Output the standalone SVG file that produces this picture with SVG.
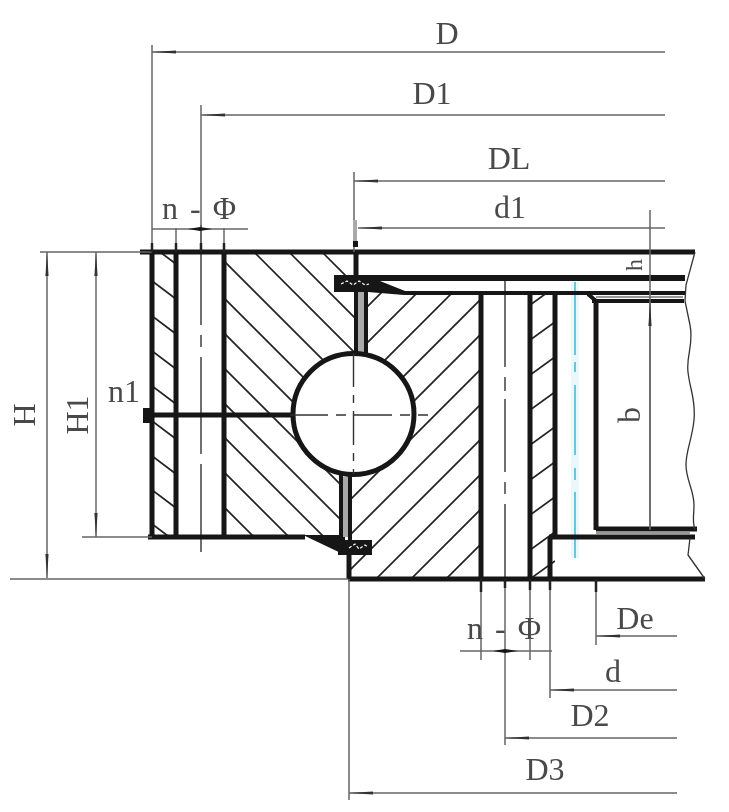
<svg xmlns="http://www.w3.org/2000/svg" width="729" height="812" viewBox="0 0 729 812">
<style>
.t{font-family:"Liberation Serif","DejaVu Serif",serif;font-size:32px;fill:#4a4a4a;text-anchor:middle}
.s{text-anchor:start;letter-spacing:12px}
.dim{stroke:#666;stroke-width:1.5;fill:none}
.thick{stroke:#151515;stroke-width:5;fill:none}
.mid{stroke:#151515;stroke-width:4;fill:none}
.h{stroke:#222;stroke-width:1.7;fill:none}
.ctr{stroke:#333;stroke-width:1.4;fill:none}
.dk{fill:#151515;stroke:none}
.tick{stroke:#222;stroke-width:2.5;fill:none}
</style>
<defs>
<filter id="soft" x="0" y="0" width="100%" height="100%"><feGaussianBlur stdDeviation="0.45"/></filter>
<marker id="a" markerWidth="26" markerHeight="6" refX="24" refY="3" orient="auto-start-reverse" markerUnits="userSpaceOnUse"><path d="M24 3L0 1.400V4.600Z" fill="#333"/></marker>
<clipPath id="c1"><path d="M224 252H356V414H341V538H224Z"/></clipPath>
<clipPath id="c2"><path d="M356 293H481V579H350V414H356Z"/></clipPath>
<clipPath id="c3"><rect x="152" y="252" width="24" height="285"/></clipPath>
<clipPath id="c4"><rect x="530" y="295" width="25" height="284"/></clipPath>
</defs>
<rect width="729" height="812" fill="#fff"/>
<g filter="url(#soft)">
<g id="hatching">
<g clip-path="url(#c1)" class="h">
<path d="M322 252L658 588M289 252L625 588M254 252L590 588M215 252L551 588M178 252L514 588M143 252L479 588M108 252L444 588M73 252L409 588M39 252L375 588M4 252L340 588M-31 252L305 588"/>
</g>
<g clip-path="url(#c2)" class="h">
<path d="M674 0L340 334M710 0L340 370M745 0L340 405M780 0L340 440M815 0L300 515M850 0L300 550M885 0L300 585M920 0L300 620M955 0L300 655M990 0L340 650M1025 0L420 605"/>
</g>
<g clip-path="url(#c3)" class="h">
<path d="M152 246L176 264M152 281L176 299M152 316L176 334M152 351L176 369M152 386L176 404M152 421L176 439M152 456L176 474M152 490L176 508M152 524L176 542"/>
</g>
<g clip-path="url(#c4)" class="h">
<path d="M530 305L555 287M530 340L555 322M530 375L555 357M530 410L555 392M530 445L555 427M530 480L555 462M530 515L555 497M530 550L555 532M530 579L555 561"/>
</g>
</g>

<g id="centerlines">
<line x1="201" y1="225" x2="201" y2="552" class="ctr" stroke-dasharray="100 10 12 10 97 10 88"/>
<line x1="505" y1="280" x2="505" y2="579" class="ctr" stroke-dasharray="87 10 14 8 73 10 12 10 75"/>
<rect x="571" y="282" width="8" height="276" fill="#eaf7fb"/>
<line x1="575" y1="282" x2="575" y2="558" stroke="#5fc0d8" stroke-width="1.8" stroke-dasharray="73 7 10 13 70 13 12 12 66"/>
</g>

<g id="bearing-outline">
<path class="thick" d="M140 252H695M152 252V537M176 252V537M224 252V537M148 537H305"/>
<path class="dk" d="M303 535H345V555Z"/>
<path class="thick" d="M356 252V275M345 415H145"/>
<rect x="143" y="408" width="9" height="15" class="dk"/>
<path class="mid" d="M356 292V354M366 292V354M341 474V538M350 474V540"/>
<rect x="358" y="292" width="6" height="60" fill="#aaa"/>
<rect x="343" y="477" width="5" height="60" fill="#aaa"/>
<path class="dk" d="M334 275H685V281H380L405 291H685V295H404L368 292H334Z"/>
<path class="mid" d="M592 301H684"/>
<rect x="338" y="540" width="34" height="15" class="dk"/>
<path class="thick" d="M481 293V579M530 293V579M555 293V537M596 301V530M349 555V579M348 579H705M550 537V579M549 537H695M596 529H697"/>
<path class="mid" d="M588 294L596 301"/>
<path stroke="#777" stroke-width="1.5" fill="none" d="M596 533H690M596 297H683"/>
<path stroke="#fff" stroke-width="1.2" fill="none" stroke-dasharray="3 2" d="M341 284L347 281L353 285L359 281L365 285L369 284M349 548L355 544L359 549L365 545L368 547"/>
<circle cx="353.500" cy="414" r="60.500" fill="#fff" stroke="#151515" stroke-width="5"/>
<path class="ctr" stroke-dasharray="38 8 10 8" d="M290 415H428"/>
<path class="ctr" stroke-dasharray="34 8 8 8" d="M353.500 353V474"/>
<path d="M695 252L686 285L685 301L690 325C694 345 686 355 688 372C690 390 696 400 694 420C692 440 686 450 686 465C686 480 694 490 694 505C694 515 692 522 695 530M690 538L688 555L705 579" stroke="#333" stroke-width="1.3" fill="none"/>
</g>

<g id="dimensions">
<path class="dim" d="M152 45V252M201 105V252M176 228V252M224 228V252M354 172V252M650 210V530M40 252H152M88 252H152M10 579H348M82 537H152M349 579V800M481 579V660M530 579V660M505 579V745M550 579V698M596 579V645"/>
<path class="tick" d="M152 243V252M176 243V252M201 243V252M224 243V252M481 579V592M505 579V588M530 579V590M550 579V590M596 579V592"/>
<rect x="353" y="220" width="4" height="24" fill="#aaa"/>
<rect x="353" y="241" width="5" height="6" class="dk"/>
<path class="dim" marker-start="url(#a)" d="M152 52H665"/>
<path class="dim" marker-start="url(#a)" d="M201 115H665"/>
<path class="dim" marker-start="url(#a)" d="M354 181H665"/>
<path class="dim" marker-start="url(#a)" d="M358 228H665"/>
<path class="dim" d="M152 229H248"/>
<path class="dk" d="M188 229L200 227V231ZM212 229L200 227V231Z"/>
<path class="dim" marker-start="url(#a)" d="M596 636H677"/>
<path class="dim" marker-start="url(#a)" d="M550 690H677"/>
<path class="dim" marker-start="url(#a)" d="M505 738H677"/>
<path class="dim" marker-start="url(#a)" d="M349 793H677"/>
<path class="dim" d="M460 651H552"/>
<path class="dk" d="M493 651L505 649V653ZM518 651L505 649V653Z"/>
<path class="dim" marker-start="url(#a)" marker-end="url(#a)" d="M47 252V578"/>
<path class="dim" marker-start="url(#a)" marker-end="url(#a)" d="M96 252V537"/>
<path class="dim" marker-start="url(#a)" d="M650 302V529"/>
</g>

<g id="labels">
<text class="t" x="447" y="44">D</text>
<text class="t" x="432" y="104">D1</text>
<text class="t" x="509" y="169">DL</text>
<text class="t" x="510" y="218">d1</text>
<text class="t s" x="162" y="219">n-Φ</text>
<text class="t" x="124" y="402">n1</text>
<text class="t" transform="translate(35,415) rotate(-90)">H</text>
<text class="t" transform="translate(88,415) rotate(-90)">H1</text>
<text class="t" transform="translate(640,415) rotate(-90)">b</text>
<text class="t" transform="translate(642,265) rotate(-90)" style="font-size:24px">h</text>
<text class="t" x="635" y="629">De</text>
<text class="t" x="613" y="682">d</text>
<text class="t" x="590" y="726">D2</text>
<text class="t" x="545" y="780">D3</text>
<text class="t s" x="467" y="639">n-Φ</text>
</g>
</g>
</svg>
